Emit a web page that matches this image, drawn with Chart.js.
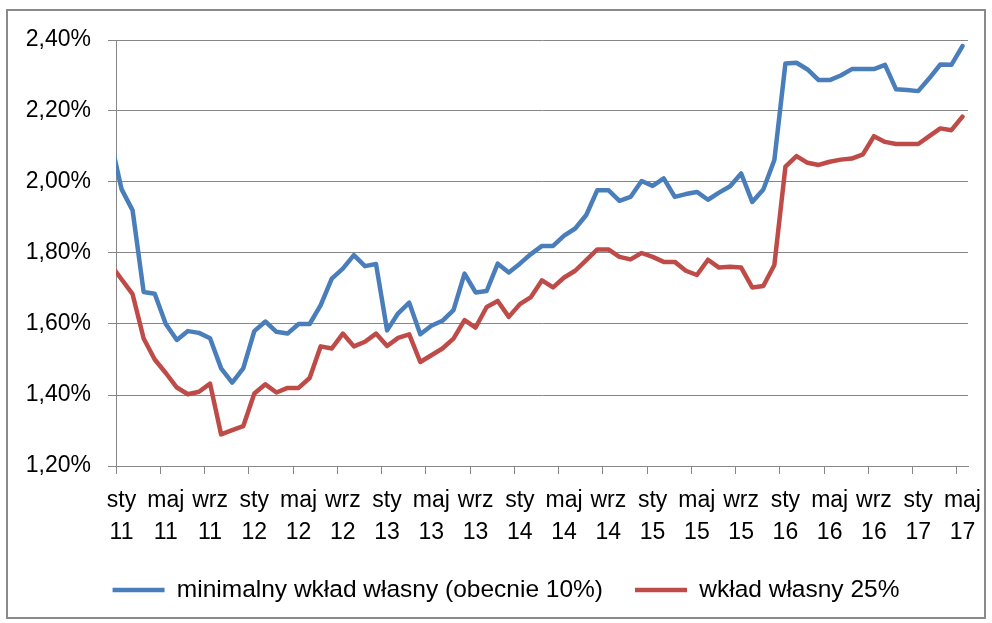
<!DOCTYPE html>
<html lang="pl">
<head>
  <meta charset="UTF-8">
  <title>Wkład własny</title>
  <style>
    html, body {
      margin: 0;
      padding: 0;
      background: #fff;
    }
    #frame {
      position: absolute;
      left: 6px;
      top: 9px;
      width: 980px;
      height: 610px;
      box-sizing: border-box;
      border: 2px solid #8a8a8a;
      pointer-events: none;
    }
    #chartWrapper {
      position: absolute;
      left: 0;
      top: 0;
      width: 992px;
      height: 623px;
    }
  </style>
</head>
<body>
  <div id="chartWrapper">
    <canvas id="rateChart"></canvas>
  </div>
  <div id="frame"></div>

  <script src="https://cdn.jsdelivr.net/npm/chart.js/dist/chart.umd.min.js"></script>
  <script>
    // month names (Polish, short) and the range: gru 2010 .. maj 2017
    const monthNames = ['sty', 'lut', 'mar', 'kwi', 'maj', 'cze', 'lip', 'sie', 'wrz', 'paź', 'lis', 'gru'];
    const firstYear = 10;   // series starts in December 2010 (only partly visible)
    const firstMonth = 11;

    // minimalny wkład własny (obecnie 10%), in %
    const minDownPayment = [
      2.12,
      1.98, 1.92, 1.69, 1.685, 1.60, 1.555, 1.58, 1.575, 1.56, 1.475, 1.435, 1.475,
      1.58, 1.607, 1.578, 1.573, 1.60, 1.60, 1.653, 1.728, 1.756, 1.794, 1.763, 1.769,
      1.582, 1.63, 1.66, 1.571, 1.595, 1.609, 1.639, 1.742, 1.689, 1.693, 1.77, 1.745,
      1.77, 1.797, 1.82, 1.82, 1.849, 1.869, 1.907, 1.977, 1.977, 1.947, 1.958, 2.003,
      1.989, 2.01, 1.958, 1.966, 1.972, 1.95, 1.97, 1.988, 2.024, 1.944, 1.979, 2.062,
      2.334, 2.336, 2.317, 2.287, 2.287, 2.30, 2.318, 2.318, 2.318, 2.33, 2.261, 2.259,
      2.256, 2.292, 2.331, 2.33, 2.383
    ];

    // wkład własny 25%, in %
    const down25 = [
      1.768,
      1.726, 1.684, 1.559, 1.50, 1.462, 1.421, 1.402, 1.409, 1.432, 1.289, 1.301, 1.312,
      1.404, 1.43, 1.407, 1.42, 1.42, 1.448, 1.537, 1.531, 1.573, 1.537, 1.55, 1.573,
      1.538, 1.561, 1.571, 1.493, 1.512, 1.531, 1.559, 1.611, 1.59, 1.648, 1.665, 1.62,
      1.656, 1.676, 1.723, 1.703, 1.731, 1.75, 1.78, 1.81, 1.81, 1.789, 1.782, 1.80,
      1.789, 1.775, 1.775, 1.75, 1.738, 1.781, 1.759, 1.761, 1.759, 1.703, 1.707, 1.766,
      2.043, 2.073, 2.054, 2.048, 2.057, 2.063, 2.066, 2.078, 2.129, 2.113, 2.107, 2.107,
      2.107, 2.129, 2.151, 2.146, 2.184
    ];

    const seriesNames = ['minimalny wkład własny (obecnie 10%)', 'wkład własny 25%'];
    const seriesColors = ['#4a7ebb', '#be4b48'];
    const yTicks = [1.2, 1.4, 1.6, 1.8, 2.0, 2.2, 2.4];
    const labelEvery = 4;   // a label every 4 months: sty, maj, wrz

    // month labels, e.g. "sty 11"
    const monthLabels = minDownPayment.map((_, i) => {
      const m = (firstMonth + i) % 12;
      const y = firstYear + Math.floor((firstMonth + i) / 12);
      return monthNames[m] + ' ' + String(y).padStart(2, '0');
    });

    // the axis starts at sty 11; each month sits in the middle of its slot
    const visibleMonths = monthLabels.length - 1;
    const toPoints = vals => vals.map((v, i) => ({ x: i - 0.5, y: v }));

    const tickValues = [];
    for (let v = 0; v < visibleMonths; v += labelEvery) tickValues.push(v);

    const FONT = '"Liberation Sans", Arial, sans-serif';
    const GRID = '#868686';
    Chart.defaults.font.family = FONT;
    Chart.defaults.color = '#000';

    const ctx = document.getElementById('rateChart').getContext('2d');
    new Chart(ctx, {
      type: 'line',
      data: {
        datasets: [minDownPayment, down25].map((vals, i) => ({
          label: seriesNames[i],
          data: toPoints(vals),
          borderColor: seriesColors[i],
          backgroundColor: seriesColors[i],
          borderWidth: 4.5,
          borderJoinStyle: 'round',
          borderCapStyle: 'round',
          pointRadius: 0,
          tension: 0,
          fill: false,
          clip: 0,
          yAxisID: 'y'
        }))
      },
      options: {
        responsive: true,
        maintainAspectRatio: false,
        animation: false,
        devicePixelRatio: 1,
        layout: {
          padding: { left: 24, right: 4, top: 40, bottom: 10.75 }
        },
        plugins: {
          tooltip: { enabled: false },
          legend: {
            position: 'bottom',
            labels: {
              usePointStyle: true,
              pointStyle: 'line',
              pointStyleWidth: 52,
              boxHeight: 4,
              padding: 32,
              color: '#000',
              font: { size: 24.5, family: FONT }
            }
          }
        },
        scales: {
          x: {
            type: 'linear',
            min: 0,
            max: visibleMonths,
            afterBuildTicks: scale => {
              scale.ticks = tickValues.map(v => ({ value: v }));
            },
            afterFit: scale => { scale.height = 79.75; },
            grid: {
              drawOnChartArea: false,
              drawTicks: true,
              tickLength: 8,
              color: GRID
            },
            border: { display: true, color: GRID },
            ticks: {
              autoSkip: false,
              maxRotation: 0,
              minRotation: 0,
              padding: 10,
              labelOffset: 5.5,
              color: '#000',
              font: { size: 23, lineHeight: 1.42 },
              callback: value => monthLabels[value + 1].split(' ')
            }
          },
          y: {
            min: yTicks[0],
            max: yTicks[yTicks.length - 1],
            afterBuildTicks: scale => {
              scale.ticks = yTicks.map(v => ({ value: v }));
            },
            afterFit: scale => { scale.width = 92; },
            grid: {
              color: GRID,
              tickLength: 8,
              drawTicks: true
            },
            border: { display: true, color: GRID },
            ticks: {
              padding: 17,
              color: '#000',
              font: { size: 23 },
              callback: v => v.toFixed(2).replace('.', ',') + '%'
            }
          },
          // empty strip on the right, keeps the plot edge where it is in the original
          yRight: {
            position: 'right',
            grid: { display: false },
            border: { display: false },
            ticks: { display: false },
            afterFit: scale => { scale.width = 20; }
          }
        }
      }
    });
  </script>
</body>
</html>
